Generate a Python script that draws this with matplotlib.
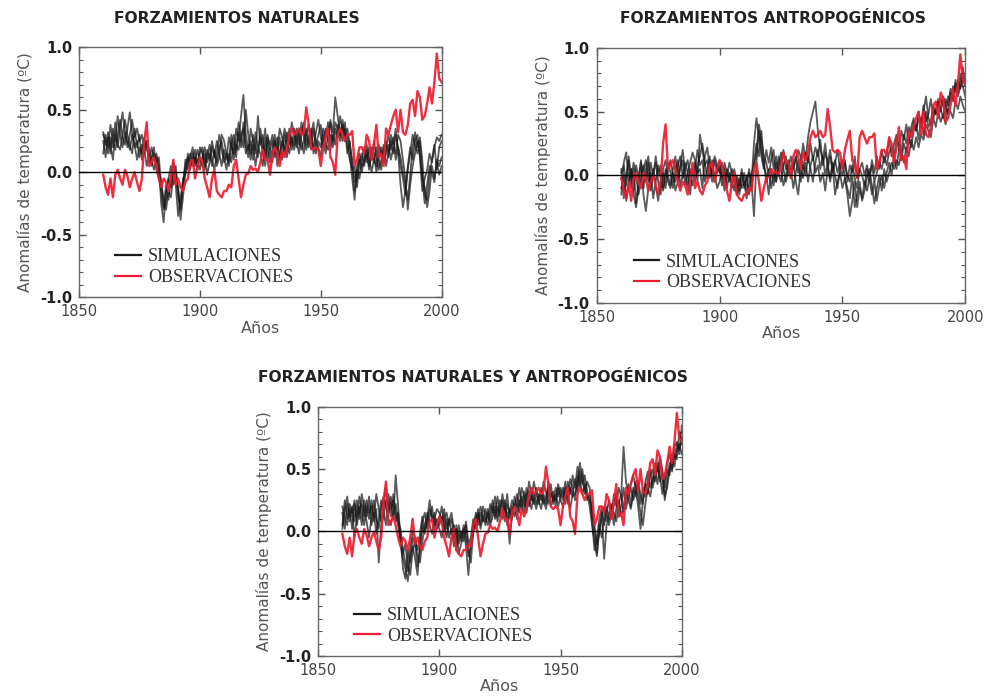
import matplotlib
matplotlib.use("Agg")
import matplotlib.pyplot as plt
import numpy as np
from matplotlib.ticker import MultipleLocator

years = list(range(1860, 2001))

observaciones = [
    -0.02, -0.12, -0.18, -0.05, -0.20, -0.02, 0.02, -0.05, -0.10, 0.02,
    -0.03, -0.12, -0.05, 0.00, -0.08, -0.15, -0.05, 0.25, 0.40, 0.05,
    0.08, 0.12, 0.05, -0.05, -0.12, -0.05, -0.08, -0.15, -0.05, 0.10,
    -0.10, -0.05, -0.12, -0.15, -0.08, -0.05, 0.08, 0.10, -0.05, 0.05,
    0.12, 0.08, -0.05, -0.12, -0.20, -0.05, 0.02, -0.15, -0.18, -0.20,
    -0.15, -0.15, -0.10, -0.12, 0.05, 0.10, -0.05, -0.20, -0.10, -0.02,
    -0.01, 0.05, 0.02, 0.03, 0.00, 0.08, 0.18, 0.10, 0.10, -0.02,
    0.15, 0.20, 0.15, 0.05, 0.18, 0.12, 0.18, 0.30, 0.35, 0.30,
    0.32, 0.35, 0.30, 0.32, 0.52, 0.38, 0.20, 0.18, 0.20, 0.18,
    0.05, 0.20, 0.28, 0.35, 0.12, 0.08, -0.02, 0.30, 0.35, 0.30,
    0.25, 0.30, 0.30, 0.33, 0.05, 0.10, 0.20, 0.20, 0.15, 0.30,
    0.25, 0.10, 0.22, 0.38, 0.12, 0.15, 0.05, 0.35, 0.30, 0.38,
    0.45, 0.50, 0.32, 0.50, 0.32, 0.30, 0.38, 0.55, 0.58, 0.45,
    0.65, 0.60, 0.42, 0.45, 0.55, 0.68, 0.55, 0.72, 0.95, 0.75,
    0.72,
]

nat_sim_a = [
    0.30, 0.22, 0.28, 0.15, 0.35, 0.25, 0.45, 0.30, 0.20, 0.32,
    0.25, 0.18, 0.30, 0.22, 0.10, 0.20, 0.15, 0.28, 0.18, 0.12,
    0.20, 0.10, 0.15, 0.05, -0.25, -0.40, -0.15, -0.05, -0.12, 0.05,
    -0.10, -0.35, -0.20, -0.08, 0.05, 0.12, 0.02, 0.15, 0.08, 0.18,
    0.10, 0.05, 0.15, -0.02, 0.08, 0.20, 0.12, 0.25, 0.15, 0.05,
    0.18, 0.10, 0.28, 0.20, 0.15, 0.35, 0.25, 0.45, 0.62, 0.30,
    0.18, 0.25, 0.10, 0.32, 0.20, 0.15, 0.05, 0.22, 0.30, 0.18,
    0.25, 0.12, 0.20, 0.35, 0.28, 0.15, 0.32, 0.22, 0.40, 0.30,
    0.20, 0.35, 0.25, 0.15, 0.30, 0.38, 0.25, 0.20, 0.32, 0.42,
    0.28, 0.20, 0.35, 0.25, 0.40, 0.32, 0.60, 0.45, 0.30, 0.38,
    0.25, 0.30, 0.15, -0.05, -0.22, 0.05, 0.10, 0.00, 0.12, 0.18,
    0.05, 0.15, 0.08, 0.20, 0.10, 0.02, 0.18, 0.25, 0.12, 0.30,
    0.22, 0.35, 0.15, -0.10, -0.28, -0.15, 0.05, 0.20, 0.10, 0.25,
    0.30, 0.12, -0.15, -0.05, 0.02, 0.15, 0.08, 0.20, 0.28, 0.25,
    0.30,
]
nat_sim_b = [
    0.15, 0.30, 0.20, 0.38, 0.25, 0.18, 0.30, 0.42, 0.28, 0.22,
    0.35, 0.48, 0.30, 0.20, 0.25, 0.12, 0.22, 0.15, 0.25, 0.08,
    0.12, 0.20, 0.02, -0.05, -0.15, -0.30, -0.22, -0.05, 0.05, -0.10,
    -0.05, -0.15, -0.38, -0.20, 0.00, 0.08, 0.15, 0.05, 0.12, 0.02,
    0.15, 0.20, 0.05, 0.12, 0.22, 0.10, 0.02, 0.15, 0.30, 0.18,
    0.08, 0.15, 0.05, 0.22, 0.30, 0.18, 0.40, 0.28, 0.20, 0.50,
    0.30, 0.15, 0.22, 0.05, 0.18, 0.28, 0.15, 0.35, 0.10, 0.20,
    0.08, 0.25, 0.15, 0.28, 0.10, 0.30, 0.20, 0.35, 0.25, 0.18,
    0.30, 0.22, 0.40, 0.28, 0.18, 0.25, 0.35, 0.15, 0.22, 0.30,
    0.38, 0.25, 0.15, 0.30, 0.42, 0.20, 0.35, 0.28, 0.45, 0.32,
    0.40, 0.20, 0.10, 0.02, 0.05, -0.12, 0.08, 0.15, 0.05, 0.22,
    0.12, 0.00, 0.10, 0.05, 0.22, 0.15, 0.08, 0.20, 0.30, 0.18,
    0.28, 0.10, 0.20, 0.05, -0.05, -0.18, 0.02, 0.15, 0.30, 0.22,
    0.15, 0.25, -0.05, -0.25, -0.10, 0.05, 0.00, -0.08, 0.10, 0.05,
    0.12,
]
nat_sim_c = [
    0.25, 0.12, 0.32, 0.22, 0.10, 0.30, 0.20, 0.35, 0.48, 0.32,
    0.20, 0.30, 0.42, 0.28, 0.35, 0.25, 0.30, 0.18, 0.05, 0.15,
    0.05, 0.15, 0.08, 0.12, -0.10, -0.20, -0.30, -0.15, -0.20, -0.02,
    0.05, -0.20, -0.28, -0.12, 0.10, 0.02, 0.12, 0.20, 0.05, 0.10,
    0.02, 0.12, 0.20, 0.08, 0.15, 0.05, 0.18, 0.08, 0.20, 0.25,
    0.12, 0.02, 0.15, 0.08, 0.25, 0.12, 0.32, 0.20, 0.40, 0.22,
    0.12, 0.35, 0.25, 0.15, 0.45, 0.22, 0.30, 0.12, 0.25, 0.08,
    0.18, 0.30, 0.05, 0.15, 0.25, 0.20, 0.12, 0.30, 0.18, 0.35,
    0.25, 0.15, 0.30, 0.40, 0.22, 0.30, 0.18, 0.35, 0.25, 0.20,
    0.12, 0.30, 0.22, 0.18, 0.30, 0.25, 0.40, 0.35, 0.25, 0.42,
    0.30, 0.35, 0.22, 0.10, -0.08, 0.02, -0.05, 0.10, 0.20, 0.08,
    0.20, 0.10, 0.25, 0.12, 0.02, 0.10, 0.22, 0.05, 0.15, 0.25,
    0.15, 0.30, 0.20, 0.12, 0.00, -0.10, -0.22, -0.02, 0.20, 0.32,
    0.20, 0.28, 0.10, -0.18, -0.22, -0.02, 0.10, 0.22, 0.02, 0.20,
    0.25,
]
nat_sim_d = [
    0.32, 0.25, 0.15, 0.28, 0.20, 0.40, 0.22, 0.18, 0.30, 0.42,
    0.30, 0.22, 0.15, 0.35, 0.20, 0.30, 0.10, 0.20, 0.25, 0.18,
    0.10, 0.02, 0.12, 0.00, -0.08, -0.28, -0.10, -0.22, -0.05, 0.08,
    0.00, -0.12, -0.30, -0.05, -0.02, 0.15, 0.05, 0.10, 0.18, 0.05,
    0.20, 0.15, 0.02, 0.18, 0.10, 0.25, 0.15, 0.05, 0.12, 0.30,
    0.25, 0.15, 0.08, 0.30, 0.10, 0.22, 0.18, 0.30, 0.35, 0.15,
    0.22, 0.10, 0.30, 0.20, 0.12, 0.35, 0.20, 0.05, 0.28, 0.22,
    0.30, 0.18, 0.28, 0.10, 0.22, 0.35, 0.25, 0.15, 0.28, 0.22,
    0.35, 0.28, 0.18, 0.25, 0.35, 0.20, 0.30, 0.40, 0.15, 0.25,
    0.20, 0.35, 0.28, 0.40, 0.18, 0.30, 0.22, 0.38, 0.35, 0.25,
    0.35, 0.15, 0.25, 0.05, -0.15, -0.05, 0.15, 0.05, 0.08, 0.15,
    0.02, 0.20, 0.15, 0.00, 0.12, 0.20, 0.08, 0.15, 0.22, 0.10,
    0.20, 0.15, 0.30, 0.25, 0.10, -0.05, -0.30, -0.10, 0.05, 0.15,
    0.25, 0.15, -0.05, -0.12, -0.28, -0.15, 0.05, -0.05, 0.08, -0.02,
    0.05,
]

ant_sim_a = [
    -0.15, 0.10, 0.18, -0.05, 0.05, -0.12, 0.08, -0.02, 0.12, -0.10,
    0.05, 0.15, -0.08, 0.02, 0.10, -0.05, -0.15, 0.05, 0.12, 0.00,
    -0.08, 0.05, 0.15, -0.02, 0.08, 0.20, 0.02, -0.10, 0.05, 0.00,
    0.10, -0.05, 0.32, 0.20, 0.08, 0.12, -0.02, 0.05, 0.15, 0.08,
    0.02, 0.10, -0.05, 0.05, 0.00, -0.10, 0.05, -0.08, -0.15, -0.05,
    0.02, -0.12, 0.05, -0.05, 0.25, 0.45, 0.30, 0.15, 0.05, 0.20,
    0.10, 0.22, 0.05, 0.15, 0.00, 0.12, 0.20, 0.05, 0.10, -0.02,
    0.08, 0.15, 0.02, 0.10, 0.25, 0.12, 0.30, 0.42, 0.50, 0.58,
    0.35, 0.20, 0.12, 0.25, 0.05, 0.15, 0.02, 0.10, 0.20, 0.05,
    0.00, 0.12, -0.05, 0.08, 0.02, 0.15, -0.02, 0.05, 0.10, 0.00,
    0.08, -0.05, 0.12, 0.02, 0.15, 0.05, 0.20, 0.10, 0.18, 0.28,
    0.15, 0.25, 0.32, 0.20, 0.35, 0.28, 0.40, 0.25, 0.38, 0.45,
    0.35, 0.50, 0.40, 0.55, 0.42, 0.48, 0.60, 0.45, 0.52, 0.58,
    0.50, 0.62, 0.55, 0.48, 0.65, 0.60, 0.72, 0.65, 0.80, 0.70,
    0.62,
]
ant_sim_b = [
    0.05, -0.18, 0.00, 0.12, -0.10, 0.05, -0.22, -0.05, 0.10, -0.15,
    -0.28, -0.10, 0.02, -0.18, -0.05, 0.08, -0.02, -0.12, 0.00, 0.10,
    0.02, -0.10, 0.05, 0.12, -0.08, 0.00, 0.10, 0.02, -0.15, 0.05,
    -0.05, 0.08, 0.15, 0.25, 0.10, -0.02, 0.08, 0.00, 0.12, 0.02,
    0.10, -0.02, 0.05, -0.10, 0.02, -0.05, -0.12, 0.00, -0.08, 0.05,
    -0.10, 0.00, -0.15, -0.05, -0.32, 0.10, 0.35, 0.20, 0.08, 0.00,
    -0.15, 0.05, -0.08, 0.10, 0.02, -0.05, 0.08, 0.15, 0.00, 0.05,
    -0.10, 0.02, 0.12, -0.05, 0.08, 0.00, 0.15, 0.05, -0.05, 0.10,
    0.20, 0.05, 0.15, 0.00, 0.10, -0.05, 0.08, -0.15, -0.05, 0.02,
    -0.10, -0.02, -0.15, -0.32, -0.20, -0.05, -0.25, -0.10, -0.18, -0.05,
    -0.12, -0.02, -0.15, -0.05, -0.20, -0.08, 0.00, -0.10, 0.02, 0.10,
    0.00, 0.15, 0.05, 0.20, 0.12, 0.25, 0.18, 0.30, 0.22, 0.35,
    0.40, 0.28, 0.45, 0.32, 0.50, 0.38, 0.42, 0.55, 0.48, 0.60,
    0.52, 0.45, 0.60, 0.55, 0.68, 0.58, 0.75, 0.62, 0.70, 0.85,
    0.72,
]
ant_sim_c = [
    -0.10, 0.00, -0.20, -0.08, 0.05, -0.15, -0.25, -0.10, 0.00, 0.08,
    -0.05, 0.10, -0.12, 0.05, -0.08, -0.20, -0.05, 0.02, -0.10, 0.05,
    0.12, 0.00, -0.05, 0.08, 0.15, -0.02, 0.05, 0.12, 0.00, -0.08,
    0.05, 0.20, 0.08, 0.12, -0.05, 0.05, 0.15, -0.05, 0.02, -0.10,
    -0.05, 0.05, -0.12, 0.00, 0.10, 0.02, -0.05, -0.15, -0.02, -0.10,
    -0.05, -0.18, -0.08, 0.00, 0.10, 0.25, 0.15, 0.35, 0.10, -0.05,
    0.05, -0.10, 0.02, -0.05, 0.15, 0.05, -0.08, 0.00, 0.12, 0.05,
    0.10, -0.05, -0.15, 0.05, -0.02, 0.10, -0.05, 0.08, 0.15, 0.02,
    0.08, -0.05, 0.02, -0.12, 0.05, -0.02, 0.10, 0.00, -0.10, 0.05,
    0.12, -0.02, -0.10, -0.18, 0.00, -0.25, -0.15, -0.05, -0.20, -0.12,
    -0.02, 0.05, -0.08, -0.22, -0.10, 0.00, -0.12, 0.05, -0.05, 0.02,
    0.10, 0.05, 0.12, 0.08, 0.18, 0.10, 0.22, 0.15, 0.28, 0.20,
    0.30, 0.22, 0.32, 0.28, 0.40, 0.35, 0.30, 0.45, 0.38, 0.50,
    0.42, 0.48, 0.40, 0.52, 0.50, 0.45, 0.58, 0.52, 0.62, 0.55,
    0.50,
]
ant_sim_d = [
    0.02, 0.08, -0.08, 0.15, -0.02, 0.10, 0.00, -0.15, -0.05, 0.05,
    0.12, -0.05, 0.10, -0.02, 0.15, 0.00, 0.08, -0.10, 0.05, -0.05,
    -0.10, 0.02, -0.12, -0.05, 0.05, 0.12, -0.08, 0.02, 0.10, 0.18,
    0.12, 0.02, 0.05, -0.10, 0.15, 0.22, 0.05, 0.12, -0.05, 0.08,
    0.05, -0.08, 0.10, 0.02, -0.05, 0.05, 0.00, -0.05, -0.12, 0.02,
    -0.08, -0.02, 0.02, -0.10, 0.08, 0.18, 0.40, 0.28, 0.15, 0.10,
    0.00, 0.12, 0.20, -0.05, 0.08, 0.18, 0.05, -0.05, 0.05, 0.15,
    0.05, 0.12, 0.20, 0.15, 0.05, 0.18, 0.10, 0.25, 0.12, 0.22,
    0.15, 0.28, 0.08, 0.18, 0.10, 0.20, 0.05, 0.12, 0.02, 0.10,
    0.05, 0.10, 0.00, -0.05, 0.08, -0.02, -0.10, 0.05, 0.00, -0.08,
    0.05, 0.00, 0.08, -0.05, 0.02, 0.10, 0.05, 0.15, 0.08, 0.18,
    0.22, 0.15, 0.28, 0.25, 0.18, 0.32, 0.25, 0.38, 0.30, 0.42,
    0.35, 0.45, 0.38, 0.50, 0.62, 0.45, 0.40, 0.52, 0.48, 0.55,
    0.60, 0.55, 0.48, 0.62, 0.58, 0.70, 0.65, 0.75, 0.68, 0.78,
    0.70,
]

all_sim_a = [
    0.05, 0.25, 0.10, 0.18, 0.02, 0.22, 0.12, 0.28, 0.15, 0.05,
    0.20, 0.10, 0.25, 0.12, 0.30, 0.18, 0.08, 0.22, 0.35, 0.15,
    0.28, 0.10, 0.45, 0.20, -0.05, -0.30, -0.38, -0.15, -0.25, -0.05,
    -0.10, -0.28, -0.15, 0.05, -0.02, 0.10, 0.25, 0.08, 0.15, 0.02,
    0.10, 0.20, 0.05, -0.05, 0.08, 0.15, 0.02, -0.08, 0.05, -0.05,
    0.02, -0.12, -0.35, -0.10, 0.05, 0.12, 0.05, 0.15, 0.08, 0.18,
    0.10, 0.22, 0.15, 0.28, 0.12, 0.25, 0.20, 0.08, 0.22, 0.15,
    0.25, 0.18, 0.30, 0.20, 0.35, 0.28, 0.15, 0.32, 0.25, 0.40,
    0.30, 0.22, 0.35, 0.25, 0.18, 0.30, 0.38, 0.22, 0.30, 0.20,
    0.28, 0.35, 0.22, 0.40, 0.30, 0.45, 0.35, 0.52, 0.40, 0.30,
    0.38, 0.25, 0.30, 0.10, -0.15, -0.05, 0.10, 0.20, 0.05, 0.15,
    0.25, 0.12, 0.30, 0.20, 0.35, 0.28, 0.68, 0.40, 0.30, 0.38,
    0.45, 0.35, 0.20, 0.02, 0.25, 0.38, 0.30, 0.45, 0.50, 0.40,
    0.52, 0.45, 0.30, 0.42, 0.55, 0.62, 0.50, 0.68, 0.72, 0.65,
    0.75,
]
all_sim_b = [
    0.15, 0.02, 0.22, 0.08, 0.18, -0.05, 0.12, 0.20, 0.05, 0.25,
    0.12, 0.28, 0.05, 0.15, -0.02, 0.10, 0.25, 0.15, 0.05, 0.30,
    0.18, 0.25, 0.08, 0.15, -0.10, -0.22, -0.30, -0.40, -0.20, -0.12,
    -0.22, -0.35, -0.10, 0.08, 0.15, 0.02, 0.12, 0.20, 0.05, 0.10,
    0.05, 0.12, 0.00, 0.10, -0.05, 0.02, -0.12, 0.05, -0.10, 0.00,
    -0.08, 0.05, -0.15, -0.25, 0.00, 0.08, 0.18, 0.02, 0.12, 0.05,
    0.18, 0.08, 0.20, 0.12, 0.28, 0.15, 0.10, 0.25, 0.05, 0.18,
    0.10, 0.28, 0.20, 0.35, 0.22, 0.15, 0.30, 0.20, 0.28, 0.22,
    0.35, 0.25, 0.18, 0.30, 0.22, 0.40, 0.28, 0.32, 0.20, 0.35,
    0.25, 0.20, 0.32, 0.28, 0.18, 0.30, 0.42, 0.32, 0.48, 0.38,
    0.45, 0.32, 0.20, 0.05, -0.08, -0.20, 0.02, 0.12, 0.20, 0.08,
    0.15, 0.22, 0.05, 0.18, 0.25, 0.12, 0.20, 0.32, 0.25, 0.18,
    0.30, 0.40, 0.28, 0.15, 0.05, 0.22, 0.35, 0.28, 0.40, 0.48,
    0.38, 0.55, 0.42, 0.28, 0.35, 0.50, 0.58, 0.52, 0.65, 0.70,
    0.62,
]
all_sim_c = [
    0.02, 0.18, 0.28, 0.12, 0.20, 0.08, 0.25, 0.10, 0.30, 0.18,
    0.08, -0.05, 0.12, 0.25, 0.10, 0.02, 0.18, 0.28, 0.20, 0.10,
    0.05, 0.15, 0.22, 0.08, 0.02, -0.15, -0.25, -0.32, -0.12, 0.00,
    -0.05, -0.20, -0.25, -0.08, 0.05, 0.15, 0.05, -0.02, 0.10, 0.18,
    0.15, 0.08, 0.18, 0.02, 0.10, -0.02, 0.05, -0.15, 0.00, -0.08,
    0.05, -0.05, -0.20, -0.12, -0.02, 0.15, 0.10, 0.20, 0.12, 0.08,
    0.15, 0.05, 0.12, 0.20, 0.08, 0.18, 0.25, 0.15, 0.30, 0.10,
    0.20, 0.12, 0.22, 0.15, 0.28, 0.20, 0.35, 0.25, 0.18, 0.30,
    0.22, 0.30, 0.25, 0.40, 0.32, 0.22, 0.30, 0.25, 0.35, 0.28,
    0.35, 0.28, 0.40, 0.22, 0.35, 0.28, 0.30, 0.38, 0.55, 0.42,
    0.30, 0.40, 0.35, 0.15, 0.02, -0.10, -0.02, 0.15, -0.22, 0.05,
    0.10, 0.20, 0.15, 0.08, 0.22, 0.30, 0.15, 0.25, 0.38, 0.20,
    0.35, 0.28, 0.40, 0.30, 0.22, 0.40, 0.48, 0.35, 0.42, 0.55,
    0.48, 0.60, 0.50, 0.25, 0.40, 0.55, 0.48, 0.62, 0.58, 0.80,
    0.70,
]
all_sim_d = [
    0.20, 0.10, 0.05, 0.22, 0.15, 0.25, 0.05, 0.18, 0.22, 0.12,
    0.25, 0.15, 0.20, 0.08, 0.18, -0.25, 0.05, 0.12, 0.25, 0.22,
    0.12, 0.30, 0.15, 0.05, -0.08, -0.18, -0.10, -0.28, -0.35, -0.15,
    -0.08, -0.15, -0.02, 0.12, 0.00, 0.08, 0.18, 0.12, 0.02, 0.08,
    0.02, -0.05, 0.10, 0.15, 0.05, 0.10, -0.05, 0.02, -0.18, -0.10,
    -0.02, 0.08, -0.10, -0.05, 0.10, 0.02, 0.15, 0.05, 0.20, 0.12,
    0.05, 0.15, 0.25, 0.10, 0.20, 0.12, 0.30, 0.18, 0.15, -0.10,
    0.15, 0.22, 0.10, 0.25, 0.18, 0.32, 0.22, 0.40, 0.30, 0.25,
    0.18, 0.28, 0.30, 0.22, 0.28, 0.35, 0.20, 0.28, 0.25, 0.38,
    0.30, 0.25, 0.35, 0.30, 0.42, 0.35, 0.25, 0.45, 0.35, 0.50,
    0.35, 0.28, 0.25, 0.20, 0.05, -0.18, 0.05, -0.05, 0.10, 0.20,
    0.05, 0.15, 0.22, 0.30, 0.12, 0.20, 0.35, 0.18, 0.28, 0.35,
    0.25, 0.32, 0.38, 0.22, 0.35, 0.28, 0.42, 0.50, 0.35, 0.45,
    0.55, 0.40, 0.48, 0.35, 0.50, 0.45, 0.62, 0.58, 0.70, 0.62,
    0.85,
]

titles = ["FORZAMIENTOS NATURALES", "FORZAMIENTOS ANTROPOGÉNICOS",
          "FORZAMIENTOS NATURALES Y ANTROPOGÉNICOS"]
ylabel = "Anomalías de temperatura (ºC)"
xlabel = "Años"
legend_labels = ["SIMULACIONES", "OBSERVACIONES"]
xticks = [1850, 1900, 1950, 2000]
yticks = [-1.0, -0.5, 0.0, 0.5, 1.0]

panels = [
    dict(sims=[nat_sim_a, nat_sim_b, nat_sim_c, nat_sim_d],
         rect=[0.080, 0.573, 0.367, 0.359], title_xy=(0.240, 0.974)),
    dict(sims=[ant_sim_a, ant_sim_b, ant_sim_c, ant_sim_d],
         rect=[0.604, 0.565, 0.373, 0.366], title_xy=(0.782, 0.974)),
    dict(sims=[all_sim_a, all_sim_b, all_sim_c, all_sim_d],
         rect=[0.322, 0.0575, 0.368, 0.358], title_xy=(0.479, 0.457)),
]

fig = plt.figure(figsize=(9.88, 6.96), dpi=100)
fig.patch.set_facecolor("white")

gray_text = "#555555"
for title, p in zip(titles, panels):
    ax = fig.add_axes(p["rect"])
    for i, s in enumerate(p["sims"]):
        ax.plot(years, s, color="#1a1a1a", lw=1.3, alpha=0.72, zorder=2,
                label=legend_labels[0] if i == 0 else None)
    ax.plot(years, observaciones, color="#ee1c2e", lw=1.7, alpha=0.92,
            zorder=3, label=legend_labels[1])
    ax.axhline(0, color="black", lw=1.0, zorder=4)
    ax.set_xlim(1850, 2000)
    ax.set_ylim(-1.0, 1.0)
    ax.set_xticks(xticks)
    ax.set_yticks(yticks)
    ax.set_yticklabels([f"{v:.1f}" for v in yticks])
    ax.yaxis.set_minor_locator(MultipleLocator(0.1))
    ax.tick_params(axis="both", which="both", direction="in",
                   top=True, right=True, colors="#555555")
    ax.tick_params(axis="both", which="major", length=5, width=1)
    ax.tick_params(axis="both", which="minor", length=3, width=0.8)
    ax.tick_params(axis="y", labelsize=10.5, pad=5, labelcolor="#222222")
    ax.tick_params(axis="x", labelsize=10.5, pad=5, labelcolor="#444444")
    for lab in ax.get_yticklabels():
        lab.set_fontweight("bold")
    for sp in ax.spines.values():
        sp.set_color("#666666")
        sp.set_linewidth(1.0)
    ax.set_ylabel(ylabel, fontsize=11, color=gray_text, labelpad=5)
    ax.set_xlabel(xlabel, fontsize=11.5, color=gray_text, labelpad=1)
    leg = ax.legend(loc="lower left", bbox_to_anchor=(0.10, 0.045),
                    frameon=False, handlelength=1.4, handletextpad=0.4,
                    labelspacing=0.2, borderpad=0, borderaxespad=0,
                    prop={"family": "Liberation Serif", "size": 13})
    for t in leg.get_texts():
        t.set_color("#333333")
    for h in leg.legend_handles:
        h.set_alpha(1.0)
        h.set_linewidth(1.6)
    fig.text(p["title_xy"][0], p["title_xy"][1], title, ha="center",
             va="center", fontsize=11.2, fontweight="bold", color="#222222")

fig.savefig("out.png", dpi=100, facecolor="white")
